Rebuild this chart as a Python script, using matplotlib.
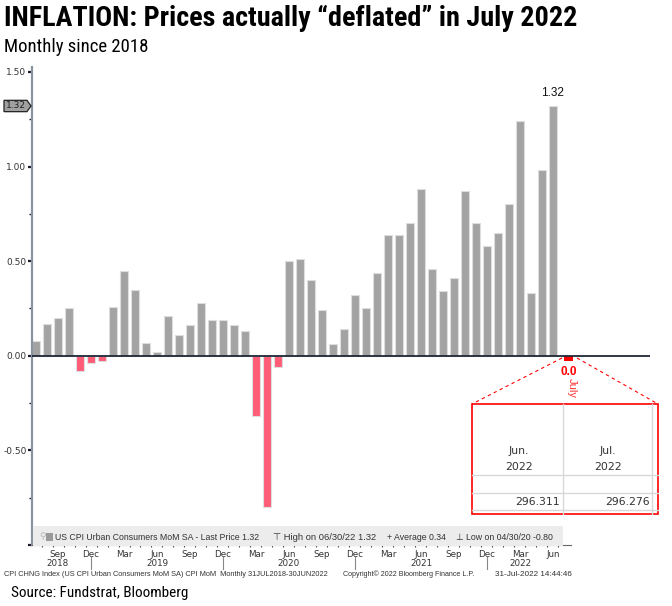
import pandas as pd
import matplotlib
matplotlib.use('Agg')
import matplotlib.pyplot as plt
from matplotlib import font_manager
from matplotlib.patches import Rectangle, Polygon
from matplotlib.lines import Line2D
from matplotlib.transforms import blended_transform_factory

# Data
months = pd.date_range('2018-07-01', '2022-06-01', freq='MS')
cpi_mom = [0.08, 0.17, 0.20, 0.25, -0.08, -0.04, -0.03, 0.26, 0.45, 0.35,
           0.07, 0.02, 0.21, 0.11, 0.16, 0.28, 0.19, 0.19, 0.16, 0.13,
           -0.32, -0.80, -0.06, 0.50, 0.51, 0.40, 0.24, 0.06, 0.14, 0.32,
           0.25, 0.44, 0.64, 0.64, 0.70, 0.88, 0.46, 0.34, 0.41, 0.87,
           0.70, 0.58, 0.65, 0.80, 1.24, 0.33, 0.98, 1.32]
july_value = -0.03
july_label = '0.0'
table_cols = ['Jun.\n2022', 'Jul.\n2022']
table_vals = ['296.311', '296.276']
legend_items = ['US CPI Urban Consumers MoM SA - Last Price 1.32',
                '\u22a4 High on 06/30/22 1.32',
                '+ Average 0.34',
                '\u22a5 Low on 04/30/20 -0.80']
label_months = {9: 'Sep', 12: 'Dec', 3: 'Mar', 6: 'Jun'}

# pick a narrow face if one is installed
installed = {f.name for f in font_manager.fontManager.ttflist}
narrow = [n for n in ['Liberation Sans Narrow', 'Arial Narrow', 'Roboto Condensed'] if n in installed]
narrow = narrow + ['Liberation Sans', 'DejaVu Sans']
bbg = ['DejaVu Sans']
small = ['Liberation Sans', 'DejaVu Sans']

W, H = 672, 606
fig = plt.figure(figsize=(W / 100, H / 100), dpi=100)
renderer = fig.canvas.get_renderer()

def fx(px):
    return px / W

def fy(py):
    return 1 - py / H

def fit_width(t, target):
    # shrink a text until it spans the wanted pixel width
    w = t.get_window_extent(renderer).width
    if w > target:
        t.set_fontsize(t.get_fontsize() * target / w)

ax = fig.add_axes([fx(32), fy(545), (650 - 32) / W, (545 - 67) / H])

x = list(range(len(cpi_mom)))
colors = ['#a3a3a3' if v >= 0 else '#ff5c77' for v in cpi_mom]
ax.bar(x, cpi_mom, width=0.75, color=colors, edgecolor='#dedede', linewidth=0.8, zorder=2)
# July 2022 print
ax.bar(len(cpi_mom) + 0.4, july_value, width=0.75, color='#ff0000', zorder=3)

ax.set_xlim(-0.364, 55.82)
ax.set_ylim(-1.0, 1.526)
ax.axhline(0, color='#1f2735', lw=1.3, zorder=3)

for s in ['top', 'right']:
    ax.spines[s].set_visible(False)
ax.spines['left'].set_color('#8a94a0')
ax.spines['left'].set_linewidth(1.6)
ax.spines['bottom'].set_color('#666666')
ax.spines['bottom'].set_bounds(-0.364, 48.6)

ax.set_yticks([-1.0, -0.5, 0, 0.5, 1.0, 1.5])
ax.set_yticklabels(['', '-0.50', '0.00', '0.50', '1.00', '1.50'])
ax.set_yticks([-0.75, -0.25, 0.25, 0.75, 1.25], minor=True)
ax.tick_params(axis='y', which='major', length=3, width=1.6, color='#1a1a2a',
               labelsize=6.5, labelcolor='#333333', pad=1)
ax.tick_params(axis='y', which='minor', length=2, width=1, color='#1a1a2a')

lab_pos = [i for i, m in enumerate(months) if m.month in label_months]
ax.set_xticks(lab_pos)
ax.set_xticklabels([label_months[months[i].month] for i in lab_pos], fontfamily=bbg)
ax.set_xticks([i - 0.5 for i in range(1, len(cpi_mom) + 1)], minor=True)
ax.tick_params(axis='x', which='major', length=0, labelsize=6.3, labelcolor='#333333', pad=3.5)
ax.tick_params(axis='x', which='minor', length=3, width=0.8, direction='inout', color='#555555')
for t in ax.get_yticklabels():
    t.set_fontfamily(bbg)

# year labels and separators
tr = blended_transform_factory(ax.transData, fig.transFigure)
for yr in sorted(set(months.year)):
    idx = [i for i, m in enumerate(months) if m.year == yr]
    ax.text(sum(idx) / len(idx) - 0.5, fy(563), str(yr), transform=tr, ha='center', va='center',
            fontsize=6.3, color='#333333', family=bbg)
for i, m in enumerate(months):
    if m.month == 12:
        fig.add_artist(Line2D([i, i], [fy(557), fy(569)], color='#888888', lw=0.8, transform=tr))

# last price tag on the y axis
tag_tr = blended_transform_factory(fig.transFigure, ax.transData)
last = cpi_mom[-1]
fig.add_artist(Polygon([[fx(4), last - 0.03], [fx(27), last - 0.03], [fx(31), last],
                        [fx(27), last + 0.03], [fx(4), last + 0.03]], closed=True,
                       facecolor='#a0a0a0', edgecolor='#222222', lw=0.9, transform=tag_tr))
fig.text(fx(16), last, '%.2f' % last, transform=tag_tr, ha='center', va='center',
         fontsize=6.5, color='#222222', family=bbg)

# label above last bar
ax.text(len(cpi_mom) - 1, last + 0.035, '%.2f' % last, ha='center', va='bottom',
        fontsize=8.5, color='#111111', family=['Liberation Sans', 'DejaVu Sans'])

# legend band
fig.add_artist(Rectangle((fx(33), fy(546)), (563 - 33) / W, 20 / H, transform=fig.transFigure,
                         facecolor='#ececec', edgecolor='none'))
fig.text(fx(39), fy(537), '\u26b2', fontsize=6.5, color='#b5b5b5', ha='left', va='center', family=bbg)
fig.add_artist(Rectangle((fx(46), fy(541)), 7 / W, 8 / H, transform=fig.transFigure,
                         facecolor='#9a9a9a', edgecolor='none'))
for xp, xe, txt in zip([55, 273, 387, 456], [260, 376, 446, 553], legend_items):
    t = fig.text(fx(xp), fy(537), txt, fontsize=7, color='#333333', ha='left', va='center', family=small)
    fit_width(t, xe - xp)

# footer lines
t = fig.text(fx(4), fy(574), 'CPI CHNG Index (US CPI Urban Consumers MoM SA) CPI MoM  Monthly 31JUL2018-30JUN2022',
             fontsize=6, color='#333333', ha='left', va='center', family=small)
fit_width(t, 327)
t = fig.text(fx(343), fy(574), 'Copyright\u00a9 2022 Bloomberg Finance L.P.', fontsize=6,
             color='#333333', ha='left', va='center', family=small)
fit_width(t, 133)
t = fig.text(fx(572), fy(574), '31-Jul-2022 14:44:46', fontsize=6, color='#333333',
             ha='right', va='center', family=small)
fit_width(t, 77)

# July callout
fig.text(fx(569), fy(372), july_label, fontsize=8.5, fontweight='bold', color='#ff0000',
         ha='center', va='center', family=['Liberation Sans', 'DejaVu Sans'])
fig.text(fx(572), fy(388), 'July', fontsize=8, color='#ff3333', rotation=-90,
         ha='center', va='center', family=['Liberation Sans', 'DejaVu Sans'])
for x0, x1 in [(562, 472), (577, 658)]:
    fig.add_artist(Line2D([fx(x0), fx(x1)], [fy(358), fy(404)], color='#ff0000', lw=0.8,
                          ls=(0, (3, 3)), transform=fig.transFigure))

# small table
for xv in [563, 652]:
    fig.add_artist(Line2D([fx(xv), fx(xv)], [fy(404), fy(514)], color='#d8d8d8', lw=1,
                          transform=fig.transFigure))
for yv in [475, 493, 510]:
    fig.add_artist(Line2D([fx(472), fx(658)], [fy(yv), fy(yv)], color='#d8d8d8', lw=1,
                          transform=fig.transFigure))
fig.add_artist(Rectangle((fx(472), fy(514)), (658 - 472) / W, (514 - 404) / H,
                         transform=fig.transFigure, facecolor='none', edgecolor='#ff0000', lw=1.2))
for xc, xr, col, val in zip([519, 608], [560, 650], table_cols, table_vals):
    top, bot = col.split('\n')
    fig.text(fx(xc), fy(451), top, fontsize=7.8, color='#333333', ha='center', va='center', family=bbg)
    fig.text(fx(xc), fy(467), bot, fontsize=7.8, color='#333333', ha='center', va='center', family=bbg)
    fig.text(fx(xr), fy(502), val, fontsize=7.8, color='#333333', ha='right', va='center', family=bbg)

# titles
t = fig.text(fx(4), fy(18), 'INFLATION: Prices actually \u201cdeflated\u201d in July 2022', fontsize=21,
             fontweight='bold', ha='left', va='center', family=narrow)
fit_width(t, 573)
t = fig.text(fx(4), fy(47), 'Monthly since 2018', fontsize=13.5, ha='left', va='center', family=narrow)
fit_width(t, 149)
t = fig.text(fx(11), fy(593), 'Source: Fundstrat, Bloomberg', fontsize=11, ha='left', va='center', family=narrow)
fit_width(t, 176)

fig.savefig('out.png', dpi=100)
